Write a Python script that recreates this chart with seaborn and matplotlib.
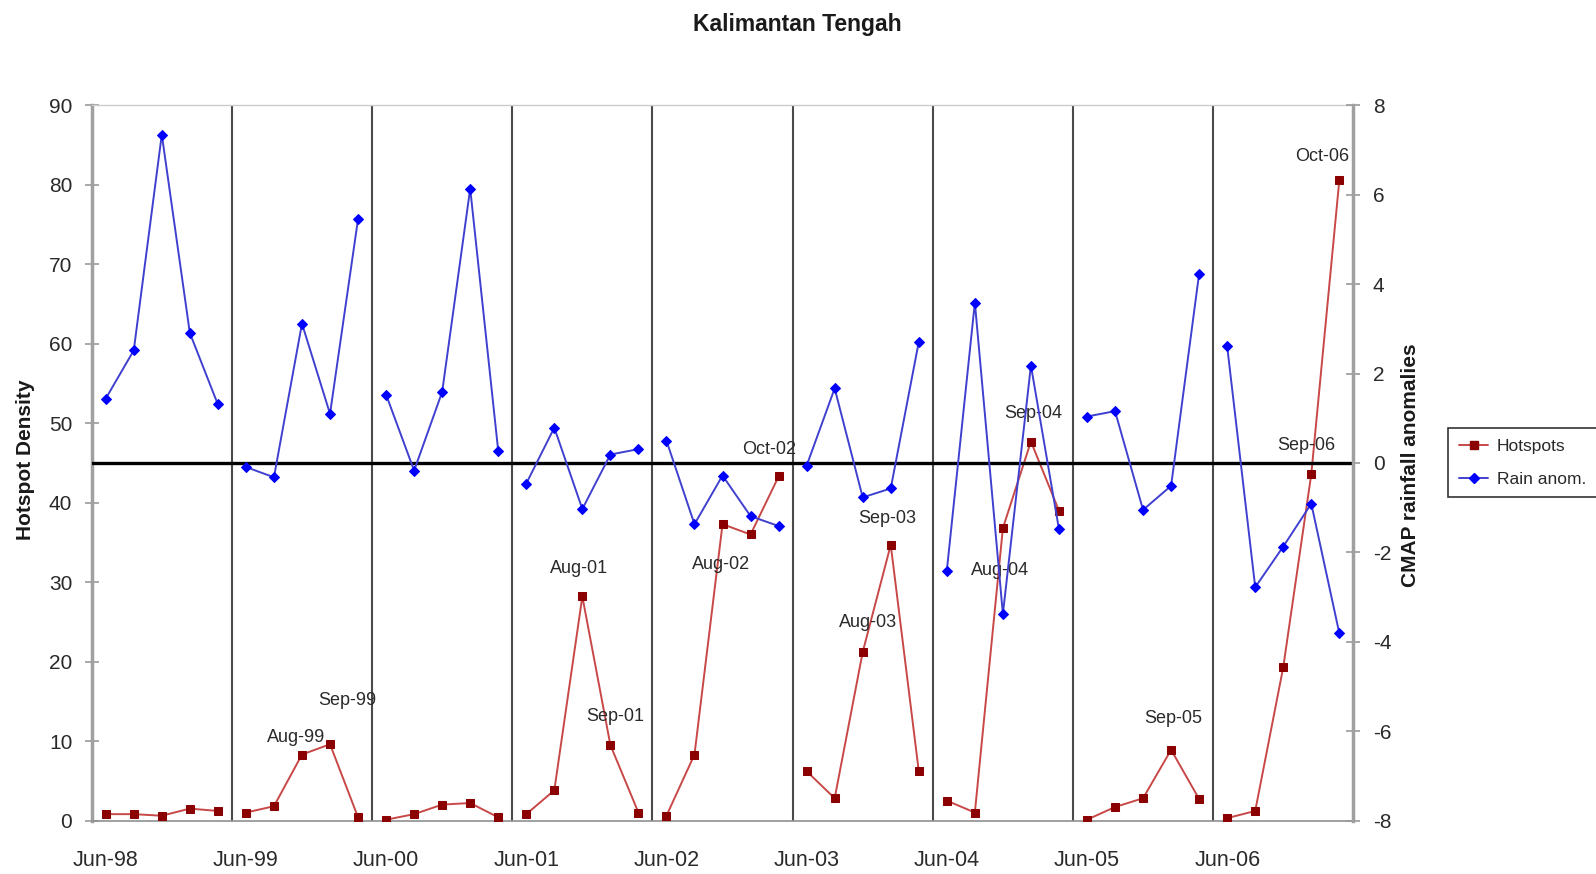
import matplotlib
matplotlib.use("Agg")
import matplotlib.pyplot as plt
from matplotlib.lines import Line2D
import seaborn as sns
import pandas as pd

# ---------------- data ----------------
years = ["98", "99", "00", "01", "02", "03", "04", "05", "06"]
months = ["Jun", "Jul", "Aug", "Sep", "Oct"]

hotspots = [
    0.8, 0.8, 0.6, 1.5, 1.2,      # 1998
    1.0, 1.8, 8.3, 9.6, 0.4,      # 1999
    0.1, 0.8, 2.0, 2.2, 0.4,      # 2000
    0.8, 3.8, 28.2, 9.5, 1.0,     # 2001
    0.6, 8.3, 37.3, 36.0, 43.3,   # 2002
    6.2, 2.8, 21.2, 34.7, 6.2,    # 2003
    2.5, 1.0, 36.8, 47.7, 39.0,   # 2004
    0.1, 1.7, 2.8, 8.9, 2.7,      # 2005
    0.3, 1.2, 19.3, 43.6, 80.6,   # 2006
]

rain_anom = [
    1.44, 2.52, 7.35, 2.91, 1.31,      # 1998
    -0.09, -0.32, 3.12, 1.10, 5.46,    # 1999
    1.53, -0.17, 1.59, 6.14, 0.27,     # 2000
    -0.46, 0.79, -1.03, 0.19, 0.31,    # 2001
    0.50, -1.37, -0.28, -1.19, -1.41,  # 2002
    -0.06, 1.67, -0.77, -0.57, 2.71,   # 2003
    -2.41, 3.59, -3.38, 2.18, -1.48,   # 2004
    1.04, 1.16, -1.05, -0.51, 4.24,    # 2005
    2.61, -2.78, -1.87, -0.91, -3.81,  # 2006
]

annot_labels = ["Aug-99", "Sep-99", "Aug-01", "Sep-01", "Aug-02", "Oct-02",
                "Aug-03", "Sep-03", "Aug-04", "Sep-04", "Sep-05", "Sep-06", "Oct-06"]

# ---------------- build table ----------------
month_labels = [f"{m}-{y}" for y in years for m in months]
df = pd.DataFrame({
    "label": month_labels,
    "year": [y for y in years for _ in months],
    "pos": list(range(len(month_labels))),
    "hotspots": hotspots,
    "rain": rain_anom,
})

# annotation offsets (pixels) relative to the annotated point
annot_offsets = {
    "Aug-99": (-6, 17), "Sep-99": (17, 44), "Aug-01": (-3, 28), "Sep-01": (5, 29),
    "Aug-02": (-1, -40), "Oct-02": (-9, 27), "Aug-03": (5, 30), "Sep-03": (-4, 26),
    "Aug-04": (-3, -42), "Sep-04": (2, 28), "Sep-05": (2, 31), "Sep-06": (-5, 29),
    "Oct-06": (-17, 24),
}

# ---------------- style ----------------
sns.set_style("white")
plt.rcParams["font.family"] = ["Liberation Sans", "DejaVu Sans"]
plt.rcParams["axes.unicode_minus"] = False

RED_LINE = "#c84848"
RED_MARK = "#8b0000"
BLUE_LINE = "#4040d0"
BLUE_MARK = "#0000ff"
TXT = "#2a2a2a"

fig = plt.figure(figsize=(15.96, 8.74), dpi=100)
ax = fig.add_axes([0.05746, 0.06121, 0.7905, 0.8181])
ax2 = ax.twinx()

n = len(month_labels)
ax.set_xlim(-0.5, n - 0.5)
ax.set_ylim(0, 90)
ax2.set_ylim(-8, 8)

# year separators
for k in range(1, len(years)):
    ax.axvline(k * len(months) - 0.5, color="#4a4a4a", lw=1.5, zorder=1)

# hotspots on left axis
sns.lineplot(data=df, x="pos", y="hotspots", units="year", estimator=None,
             ax=ax, color=RED_LINE, lw=1.4, marker="s", markersize=6,
             markerfacecolor=RED_MARK, markeredgecolor=RED_MARK, legend=False,
             zorder=3)

# rain anomalies on right axis
ax2.axhline(0, color="black", lw=2.4, zorder=2)
sns.lineplot(data=df, x="pos", y="rain", units="year", estimator=None,
             ax=ax2, color=BLUE_LINE, lw=1.4, marker="D", markersize=5,
             markerfacecolor=BLUE_MARK, markeredgecolor=BLUE_MARK, legend=False,
             zorder=3)

# annotations
for lab in annot_labels:
    i = month_labels.index(lab)
    dx, dy = annot_offsets[lab]
    ax.annotate(lab, xy=(i, hotspots[i]), xytext=(dx, dy),
                textcoords="offset pixels", ha="center", va="center",
                fontsize=13, color=TXT, zorder=5)

# axes labels / ticks
ax.set_xlabel("")
ax.set_ylabel("")
ax2.set_ylabel("")

ax.set_yticks(range(0, 91, 10))
ax2.set_yticks(range(-8, 9, 2))
ax.tick_params(axis="y", direction="inout", length=10, width=1.2, color="#999999",
               labelsize=15, labelcolor=TXT, pad=9)
ax2.tick_params(axis="y", direction="inout", length=10, width=1.2, color="#999999",
                labelsize=15, labelcolor=TXT, pad=9)

ax.set_xticks([k * len(months) - 0.5 for k in range(1, len(years))])
ax.set_xticklabels([])
ax.set_xticks([k * len(months) for k in range(len(years))], minor=True)
ax.set_xticklabels([month_labels[k * len(months)] for k in range(len(years))],
                   minor=True)
ax.tick_params(axis="x", which="major", direction="out", length=6, width=1.2,
               color="#777777")
ax.tick_params(axis="x", which="minor", length=0, labelsize=15.5, labelcolor=TXT,
               pad=21)
ax2.set_xticks([])

for a in (ax, ax2):
    a.grid(False)
ax.spines["top"].set_color("#cccccc")
ax.spines["top"].set_linewidth(1.0)
ax.spines["left"].set_color("#a0a0a0")
ax.spines["left"].set_linewidth(2.5)
ax.spines["bottom"].set_color("#909090")
ax.spines["bottom"].set_linewidth(1.2)
ax.spines["right"].set_visible(False)
ax2.spines["right"].set_color("#a0a0a0")
ax2.spines["right"].set_linewidth(2.5)
ax2.spines["left"].set_visible(False)
ax2.spines["top"].set_visible(False)
ax2.spines["bottom"].set_visible(False)

fig.text(0.4997, 0.9725, "Kalimantan Tengah", ha="center", va="center",
         fontsize=16.5, weight="bold", color="#1a1a1a")
fig.text(0.0157, 0.474, "Hotspot Density", rotation=90, ha="center", va="center",
         fontsize=15, weight="bold", color="#1a1a1a")
fig.text(0.8835, 0.468, "CMAP rainfall anomalies", rotation=90, ha="center",
         va="center", fontsize=15, weight="bold", color="#1a1a1a")

handles = [
    Line2D([], [], color=RED_LINE, lw=1.4, marker="s", markersize=6,
           markerfacecolor=RED_MARK, markeredgecolor=RED_MARK),
    Line2D([], [], color=BLUE_LINE, lw=1.4, marker="D", markersize=5,
           markerfacecolor=BLUE_MARK, markeredgecolor=BLUE_MARK),
]
leg = fig.legend(handles, ["Hotspots", "Rain anom."], loc="center left",
                 bbox_to_anchor=(0.9075, 0.4705), frameon=True, fancybox=False,
                 edgecolor="black", fontsize=12.5, handlelength=1.7,
                 handletextpad=0.5, borderpad=0.6, labelspacing=1.05,
                 borderaxespad=0, labelcolor=TXT)
leg.get_frame().set_linewidth(1.2)

fig.savefig("out.png", dpi=100)
